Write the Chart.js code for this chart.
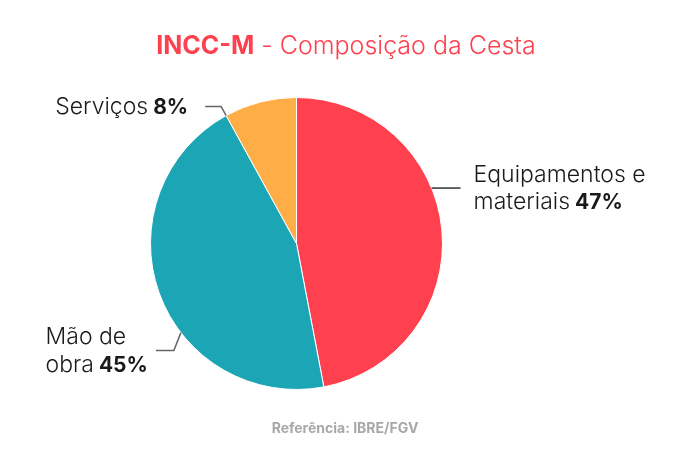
<!DOCTYPE html>
<html>
<head>
<meta charset="utf-8">
<script src="https://cdn.jsdelivr.net/npm/chart.js@4.4.1/dist/chart.umd.min.js"></script>
<style>
  html, body { margin: 0; padding: 0; background: #ffffff; }
  #wrap { position: relative; width: 685px; height: 451px; }
</style>
</head>
<body>
<div id="wrap"><canvas id="c" width="685" height="451"></canvas></div>
<script>
const categories = ['Equipamentos e materiais', 'Mão de obra', 'Serviços'];
const labelLines = [['Equipamentos e', 'materiais'], ['Mão de', 'obra'], ['Serviços']];
const values = [47, 45, 8];
const colors = ['#FF404F', '#1CA6B5', '#FFAD46'];
const titleBold = 'INCC-M';
const titleRest = ' - Composição da Cesta';
const sourceText = 'Referência: IBRE/FGV';

const FONT = 'Inter, Roboto, sans-serif';
const REG = '300 23px ' + FONT;
const BOLD = 'bold 21px ' + FONT;

const labelCfg = [
  { frac: 0.40, side: 'right', horizLen: 29, textGap: 13, lineColor: '#333333' },
  { frac: 0.39, side: 'left', elbowDx: -7, elbowDy: 18, horizLen: 18, textGap: 8, lineColor: '#666666' },
  { frac: 0.0, side: 'left', elbowDx: -5, elbowDy: -9, horizLen: 16, textGap: 17, lineColor: '#666666' }
];

const labelPlugin = {
  id: 'pieLabels',
  afterDraw(chart) {
    const ctx = chart.ctx;
    const meta = chart.getDatasetMeta(0);
    ctx.save();
    ctx.textBaseline = 'alphabetic';
    ctx.font = 'bold 25px ' + FONT;
    const wB = ctx.measureText(titleBold).width;
    ctx.font = '300 25px ' + FONT;
    const wR = ctx.measureText(titleRest).width;
    const tx = 346 - (wB + wR) / 2;
    ctx.fillStyle = '#FF404F';
    ctx.textAlign = 'left';
    ctx.font = 'bold 25px ' + FONT;
    ctx.fillText(titleBold, tx, 54);
    ctx.font = '300 25px ' + FONT;
    ctx.fillText(titleRest, tx + wB, 54);

    ctx.font = 'bold 14px ' + FONT;
    ctx.fillStyle = '#A8A8A8';
    ctx.textAlign = 'center';
    ctx.fillText(sourceText, 345, 433);

    meta.data.forEach((arc, i) => {
      const cfg = labelCfg[i];
      const a = arc.startAngle + (arc.endAngle - arc.startAngle) * cfg.frac;
      const px = arc.x + Math.cos(a) * arc.outerRadius;
      const py = arc.y + Math.sin(a) * arc.outerRadius;
      ctx.strokeStyle = cfg.lineColor;
      ctx.lineWidth = 1.5;
      ctx.beginPath();
      ctx.moveTo(px, py);
      let ex, ey, hx;
      if (cfg.side === 'right') {
        ex = px; ey = py; hx = ex + cfg.horizLen;
      } else {
        ex = px + cfg.elbowDx; ey = py + cfg.elbowDy; hx = ex - cfg.horizLen;
        ctx.lineTo(ex, ey);
      }
      ctx.lineTo(hx, ey);
      ctx.stroke();

      const lines = labelLines[i];
      const pct = ' ' + values[i] + '%';
      const lh = 27.5;
      const n = lines.length;
      ctx.fillStyle = '#1a1a1a';
      ctx.textAlign = 'left';
      const firstBase = ey + 7.5 - (n - 1) * lh / 2;
      let maxW = 0;
      lines.forEach((l2, k2) => {
        ctx.font = REG;
        let w = ctx.measureText(l2).width;
        if (k2 === n - 1) { ctx.font = BOLD; w += ctx.measureText(pct).width; }
        maxW = Math.max(maxW, w);
      });
      lines.forEach((ln, k) => {
        const isLast = k === n - 1;
        ctx.font = REG;
        const wl = ctx.measureText(ln).width;
        const x0 = cfg.side === 'right' ? hx + cfg.textGap : hx - cfg.textGap - maxW;
        const y = firstBase + k * lh;
        ctx.font = REG;
        ctx.fillText(ln, x0, y);
        if (isLast) {
          ctx.font = BOLD;
          ctx.fillText(pct, x0 + wl, y);
        }
      });
    });
    ctx.restore();
  }
};

new Chart(document.getElementById('c'), {
  type: 'pie',
  data: {
    labels: categories,
    datasets: [{
      data: values,
      backgroundColor: colors,
      borderColor: '#ffffff',
      borderWidth: 1
    }]
  },
  options: {
    responsive: false,
    animation: false,
    devicePixelRatio: 1,
    layout: { padding: { top: 97, bottom: 61, left: 150, right: 242 } },
    plugins: {
      legend: { display: false },
      tooltip: { enabled: false },
      title: { display: false }
    }
  },
  plugins: [labelPlugin]
});
</script>
</body>
</html>
